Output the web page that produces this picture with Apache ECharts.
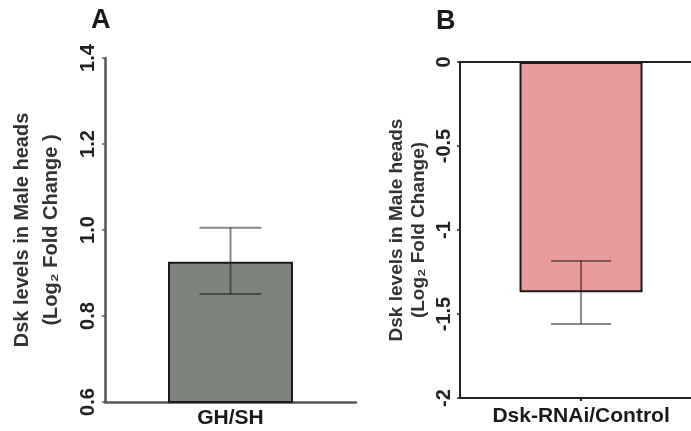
<!DOCTYPE html>
<html>
<head>
<meta charset="utf-8">
<script src="https://cdn.jsdelivr.net/npm/echarts@6/dist/echarts.min.js"></script>
<style>
html,body{margin:0;padding:0;background:#fff;}
#chart{width:691px;height:431px;}
</style>
</head>
<body>
<div id="chart"></div>
<script>
// Panel A data
const catsA = ['GH/SH'];
const valuesA = [0.926];
const errHighA = [1.005];
const errLowA = [0.851];
const ticksA = [0.6, 0.8, 1.0, 1.2, 1.4];

// Panel B data
const catsB = ['Dsk-RNAi/Control'];
const valuesB = [-1.37];
const errHighB = [-1.185];
const errLowB = [-1.56];
const ticksB = [-2, -1.5, -1, -0.5, 0];

const yNameA = 'Dsk levels in Male heads\n(Log\u2082 Fold Change )';
const yNameB = 'Dsk levels in Male heads\n(Log\u2082 Fold Change)';

const FONT = '"Liberation Sans", Arial, sans-serif';

// Panel B's plot continues past the right edge of the figure; the category
// sits at position 0 of a band running from -0.524 to 0.476.
const bandB = [-0.524, 0.476];

function errData(xs, hi, lo) {
  return xs.map((x, i) => [x, hi[i], lo[i]]);
}

function errRender(halfW, color) {
  return function (params, api) {
    const x = api.value(0);
    const top = api.coord([x, api.value(1)]);
    const bot = api.coord([x, api.value(2)]);
    const st = { stroke: color, lineWidth: 2 };
    return {
      type: 'group',
      children: [
        { type: 'line', shape: { x1: top[0], y1: top[1], x2: bot[0], y2: bot[1] }, style: st },
        { type: 'line', shape: { x1: top[0] - halfW, y1: top[1], x2: top[0] + halfW, y2: top[1] }, style: st },
        { type: 'line', shape: { x1: bot[0] - halfW, y1: bot[1], x2: bot[0] + halfW, y2: bot[1] }, style: st }
      ]
    };
  };
}

const chart = echarts.init(document.getElementById('chart'), null, { renderer: 'canvas' });

const option = {
  animation: false,
  backgroundColor: '#fff',
  textStyle: { fontFamily: FONT },
  graphic: [
    { type: 'text', left: 91, top: 7, style: { text: 'A', font: 'bold 27px ' + FONT, fill: '#1a1a1a' } },
    { type: 'text', left: 436, top: 8, style: { text: 'B', font: 'bold 27px ' + FONT, fill: '#1a1a1a' } }
  ],
  grid: [
    { left: 105, top: 58, width: 251, height: 344 },
    { left: 460, top: 62, right: 0, height: 336 }
  ],
  xAxis: [
    {
      type: 'category', gridIndex: 0, data: catsA,
      axisLine: { onZero: false, lineStyle: { color: '#555', width: 2.5 } },
      axisTick: { show: false },
      axisLabel: { margin: 6, fontSize: 21, fontWeight: 'bold', color: '#1a1a1a', fontFamily: FONT }
    },
    {
      type: 'value', gridIndex: 1, position: 'bottom', min: bandB[0], max: bandB[1],
      splitLine: { show: false },
      axisLine: { onZero: false, lineStyle: { color: '#222', width: 2 } },
      axisTick: { show: true, customValues: [0], length: 3, lineStyle: { color: '#222', width: 2 } },
      axisLabel: { customValues: [0], formatter: () => catsB[0], margin: 8, fontSize: 21, fontWeight: 'bold', color: '#1a1a1a', fontFamily: FONT }
    },
    {
      type: 'value', gridIndex: 1, position: 'top', min: bandB[0], max: bandB[1],
      splitLine: { show: false },
      axisLine: { show: true, onZero: false, lineStyle: { color: '#222', width: 2 } },
      axisTick: { show: false },
      axisLabel: { show: false }
    }
  ],
  yAxis: [
    {
      type: 'value', gridIndex: 0, min: ticksA[0], max: ticksA[ticksA.length - 1], interval: 0.2,
      splitLine: { show: false },
      axisLine: { show: true, lineStyle: { color: '#555', width: 2.5 } },
      axisTick: { show: true, length: 3, lineStyle: { color: '#555', width: 1.5 } },
      axisLabel: { rotate: 90, margin: 7, fontSize: 20, fontWeight: 'bold', color: '#222', fontFamily: FONT,
        formatter: v => v.toFixed(1) },
      name: yNameA, nameLocation: 'middle', nameRotate: 90, nameGap: 39,
      nameTextStyle: { fontSize: 20, fontWeight: 'bold', color: '#333', lineHeight: 29, fontFamily: FONT, align: 'center' }
    },
    {
      type: 'value', gridIndex: 1, min: ticksB[0], max: ticksB[ticksB.length - 1], interval: 0.5,
      splitLine: { show: false },
      axisLine: { show: true, onZero: false, lineStyle: { color: '#222', width: 2 } },
      axisTick: { show: true, length: 3, lineStyle: { color: '#222', width: 1.5 } },
      axisLabel: { rotate: 90, margin: 6, fontSize: 20, fontWeight: 'bold', color: '#222', fontFamily: FONT },
      name: yNameB, nameLocation: 'middle', nameRotate: 90, nameGap: 30,
      nameTextStyle: { fontSize: 19, fontWeight: 'bold', color: '#333', lineHeight: 22, fontFamily: FONT, align: 'center' }
    }
  ],
  series: [
    {
      type: 'bar', xAxisIndex: 0, yAxisIndex: 0, data: valuesA, barWidth: 125,
      itemStyle: { color: '#7f837e', borderColor: '#1a1a1a', borderWidth: 2 }
    },
    {
      type: 'custom', xAxisIndex: 0, yAxisIndex: 0, z: 5,
      data: errData([0], errHighA, errLowA),
      renderItem: errRender(31, 'rgba(20,20,20,0.5)')
    },
    {
      type: 'bar', xAxisIndex: 1, yAxisIndex: 1, barWidth: 123,
      data: valuesB.map((v, i) => [i, v]),
      itemStyle: { color: '#e99b9b', borderColor: '#1a1a1a', borderWidth: 2 }
    },
    {
      type: 'custom', xAxisIndex: 1, yAxisIndex: 1, z: 5,
      data: errData([0], errHighB, errLowB),
      renderItem: errRender(30, 'rgba(20,20,20,0.5)')
    }
  ]
};

chart.setOption(option);
</script>
</body>
</html>
